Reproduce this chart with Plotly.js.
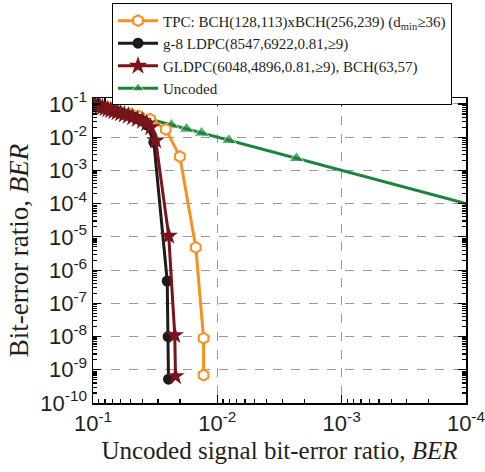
<!DOCTYPE html>
<html>
<head>
<meta charset="utf-8">
<script src="https://cdn.plot.ly/plotly-3.0.1.min.js"></script>
<style>html,body{margin:0;padding:0;background:#fff;}#chart{width:485px;height:472px;}</style>
</head>
<body>
<div id="chart"></div>
<script>
// ---- Data ----
const tpcName = "TPC: BCH(128,113)xBCH(256,239) (d<sub>min</sub>≥36)";
const tpcX = [0.1, 0.08, 0.065, 0.05, 0.0425, 0.0347, 0.026, 0.0200, 0.0149, 0.0129, 0.0129];
const tpcY = [0.1, 0.08, 0.065, 0.05, 0.0425, 0.035, 0.0173, 0.0026, 4.8e-6, 8.9e-9, 6.9e-10];

const ldpcName = "g-8 LDPC(8547,6922,0.81,≥9)";
const ldpcX = [0.1, 0.094, 0.088, 0.082, 0.076, 0.07, 0.065, 0.06, 0.055, 0.05, 0.046, 0.042, 0.0385, 0.0367, 0.0324, 0.0253, 0.0249, 0.0247];
const ldpcY = [0.1, 0.093, 0.086, 0.079, 0.072, 0.066, 0.06, 0.055, 0.049, 0.044, 0.039, 0.034, 0.029, 0.0233, 0.007, 4.7e-7, 1e-8, 5.2e-10];

const gldpcName = "GLDPC(6048,4896,0.81,≥9), BCH(63,57)";
const gldpcX = [0.1, 0.096, 0.092, 0.088, 0.084, 0.08, 0.076, 0.072, 0.068, 0.064, 0.06, 0.056, 0.052, 0.048, 0.044, 0.04, 0.037, 0.0343, 0.0313, 0.0246, 0.022, 0.0217];
const gldpcY = [0.1, 0.094, 0.089, 0.084, 0.079, 0.074, 0.069, 0.065, 0.06, 0.056, 0.052, 0.048, 0.044, 0.04, 0.035, 0.031, 0.026, 0.020, 0.0079, 1.07e-5, 1.1e-8, 6.4e-10];

const uncodedName = "Uncoded";
const uncodedX = [0.1, 0.0646, 0.052, 0.0434, 0.0344, 0.0234, 0.0177, 0.0134, 0.00807, 0.00231, 0.0001];
const uncodedY = [0.1, 0.0646, 0.052, 0.0434, 0.0344, 0.0234, 0.0177, 0.0134, 0.00807, 0.00231, 0.0001];
const uncodedMarkerShown = [false, true, true, true, true, true, true, true, true, true, false];

const xTickVals = [1e-1, 1e-2, 1e-3, 1e-4];
const xTickText = ["10<sup>-1</sup>", "10<sup>-2</sup>", "10<sup>-3</sup>", "10<sup>-4</sup>"];
const yTickVals = [1e-1, 1e-2, 1e-3, 1e-4, 1e-5, 1e-6, 1e-7, 1e-8, 1e-9, 1e-10];
const yTickText = ["10<sup>-1</sup>", "10<sup>-2</sup>", "10<sup>-3</sup>", "10<sup>-4</sup>", "10<sup>-5</sup>",
                   "10<sup>-6</sup>", "10<sup>-7</sup>", "10<sup>-8</sup>", "10<sup>-9</sup>", "10<sup>-10</sup>"];

// ---- Styling ----
const cOrange = "#F7901E", cBlack = "#1E1A1B", cRed = "#7A1418", cGreen = "#17853A";
function minorVals(lo, hi) {
  const v = [];
  for (let e = lo; e < hi; e++) for (let d = 2; d <= 9; d++) v.push(d * Math.pow(10, e));
  return v;
}

const traces = [
  {x: uncodedX, y: uncodedY, name: uncodedName, mode: "lines+markers", legendrank: 4,
   line: {color: cGreen, width: 3},
   marker: {symbol: "triangle-up", color: cGreen, size: uncodedMarkerShown.map(s => s ? 13 : 0)}},
  {x: tpcX, y: tpcY, name: tpcName, mode: "lines+markers", legendrank: 1,
   line: {color: cOrange, width: 3},
   marker: {symbol: "hexagon", color: "#ffffff", size: 11, line: {color: cOrange, width: 2}}},
  {x: ldpcX, y: ldpcY, name: ldpcName, mode: "lines+markers", legendrank: 2,
   line: {color: cBlack, width: 3},
   marker: {symbol: "circle", color: cBlack, size: 11}},
  {x: gldpcX, y: gldpcY, name: gldpcName, mode: "lines+markers", legendrank: 3,
   line: {color: cRed, width: 3},
   marker: {symbol: "star", color: cRed, size: 14}}
];

const axisCommon = {
  type: "log", showline: true, linecolor: "#000", linewidth: 1.5, mirror: "ticks",
  ticks: "inside", ticklen: 8, tickwidth: 1.2, tickcolor: "#000",
  showgrid: true, gridcolor: "#9a9a9a", griddash: "dash", gridwidth: 1,
  zeroline: false, tickmode: "array", ticklabeloverflow: "allow",
  tickfont: {family: "Liberation Sans, Arial, sans-serif", size: 22, color: "#231f20"}
};

const layout = {
  width: 485, height: 472,
  margin: {l: 93, r: 19, t: 98, b: 69, autoexpand: false},
  paper_bgcolor: "#fff", plot_bgcolor: "#fff",
  showlegend: true,
  legend: {
    x: 0.051, y: 1.31, xanchor: "left", yanchor: "top",
    bgcolor: "#fff", bordercolor: "#000", borderwidth: 1,
    itemwidth: 40,
    font: {family: "Liberation Serif, Times New Roman, serif", size: 15, color: "#231f20"},
    tracegroupgap: 0
  },
  xaxis: Object.assign({}, axisCommon, {
    range: [-0.9999, -4.0002], tickvals: xTickVals, ticktext: xTickText,
    minor: {tickmode: "array", tickvals: minorVals(-4, -1), ticks: "inside", ticklen: 4, tickcolor: "#000", showgrid: false},
    title: {text: "Uncoded signal bit-error ratio, <i>BER</i>", standoff: 6,
            font: {family: "Liberation Serif, Times New Roman, serif", size: 25, color: "#231f20"}}
  }),
  yaxis: Object.assign({}, axisCommon, {
    range: [-10.0002, -0.82], tickvals: yTickVals, ticktext: yTickText,
    minor: {tickmode: "array", tickvals: minorVals(-10, -1), ticks: "inside", ticklen: 4, tickcolor: "#000", showgrid: false},
    title: {text: "Bit-error ratio, <i>BER</i>", standoff: 4,
            font: {family: "Liberation Serif, Times New Roman, serif", size: 27, color: "#231f20"}}
  })
};

Plotly.newPlot("chart", traces, layout, {displayModeBar: false, staticPlot: true});
</script>
</body>
</html>
